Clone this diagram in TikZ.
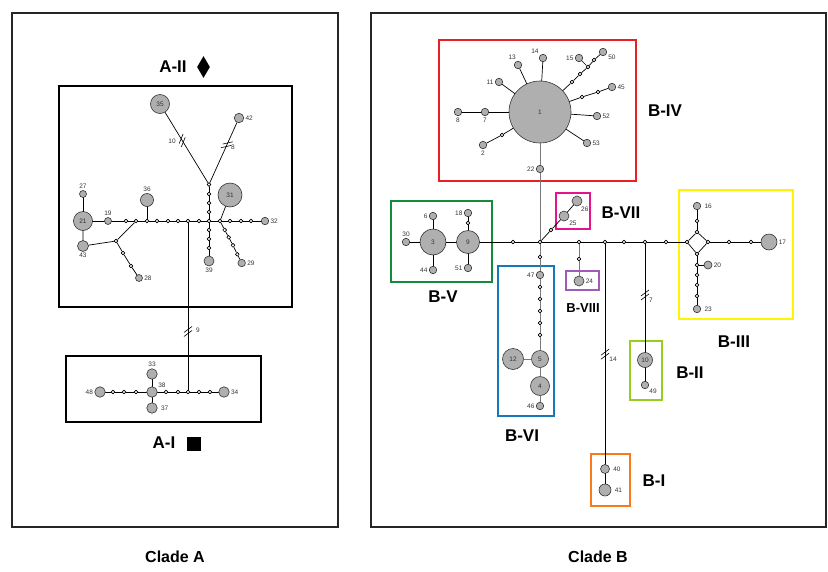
\documentclass[tikz,border=0pt]{standalone}
\usepackage{fontspec}
\setmainfont{Liberation Sans}
\usetikzlibrary{decorations.markings}
\usetikzlibrary{shapes.geometric}

\definecolor{boxred}{RGB}{235,30,35}
\definecolor{boxgreen}{RGB}{20,140,60}
\definecolor{boxblue}{RGB}{20,120,185}
\definecolor{boxmagenta}{RGB}{230,20,140}
\definecolor{boxpurple}{RGB}{160,90,185}
\definecolor{boxyellow}{RGB}{255,245,0}
\definecolor{boxlime}{RGB}{150,205,30}
\definecolor{boxorange}{RGB}{250,120,30}
\definecolor{hapfill}{RGB}{175,175,175}
\definecolor{trunk}{RGB}{120,120,120}

\tikzstyle{every node}=[font=\fontsize{6.5}{7}\selectfont]
\tikzstyle{every path}=[line width=0.7pt,line cap=round,line join=round]
\tikzstyle{mv}=[circle,draw,fill=white,inner sep=0pt,minimum size=3.8pt,line width=0.6pt]
\tikzstyle{lbl}=[text=black!80,inner sep=1.2pt]
\tikzstyle{panel}=[line width=1.8pt,draw=black!85,line join=miter]
\tikzstyle{grp}=[line width=1.8pt,line join=miter]
\tikzstyle{trunkline}=[draw=trunk]
\tikzstyle{title}=[font=\fontsize{17}{18}\selectfont\bfseries]
\tikzstyle{clade}=[font=\fontsize{16}{17}\selectfont\bfseries]
\tikzset{
  hap/.style={circle,draw=black!80,fill=hapfill,inner sep=0pt,line width=0.6pt,
    text=black!80,minimum size=#1},
  hap/.default=7.5pt,
  mut/.style={postaction={decorate,decoration={markings,
    mark=at position #1 with {\draw[line width=0.6pt] (-5,-4)--(1,4) (-1,-4)--(5,4);}}}}
}

\begin{document}
\begin{tikzpicture}[x=1pt,y=-1pt]
    \useasboundingbox (0,0) rectangle (828,571);

    % Clade panels
    \draw[panel] (12,13) rectangle (338,527);
    \draw[panel] (371,13) rectangle (826,527);
    \node[clade] (cladeA) at (175,557) {Clade A};
    \node[clade] (cladeB) at (598,557) {Clade B};

    % Group boxes
    \draw[grp] (59,86) rectangle (292,307);
    \draw[grp] (66,356) rectangle (261,422);
    \draw[grp,boxred] (439,40) rectangle (636,181);
    \draw[grp,boxmagenta] (556,193) rectangle (590,229);
    \draw[grp,boxgreen] (391,201) rectangle (492,282);
    \draw[grp,boxblue] (498,266) rectangle (554,416);
    \draw[grp,boxpurple] (566,271) rectangle (599,290);
    \draw[grp,boxyellow] (679,190) rectangle (793,319);
    \draw[grp,boxlime] (630,341) rectangle (662,400);
    \draw[grp,boxorange] (591,454) rectangle (630,506);

    % Group titles
    \node[title] (tAII) at (173,67) {A-II};
    \node[diamond,fill,inner sep=0pt,minimum width=13pt,minimum height=22pt] (symAII) at (203.5,67) {};
    \node[title] (tAI) at (164,443) {A-I};
    \node[fill,inner sep=0pt,minimum size=14pt] (symAI) at (193.5,444) {};
    \node[title] (tBIV) at (665,111) {B-IV};
    \node[title] (tBVII) at (621,213) {B-VII};
    \node[title] (tBV) at (443,297) {B-V};
    \node[title] (tBVI) at (522,436) {B-VI};
    \node[title,font=\fontsize{13}{14}\selectfont\bfseries] (tBVIII) at (583,308) {B-VIII};
    \node[title] (tBIII) at (734,342) {B-III};
    \node[title] (tBII) at (690,373) {B-II};
    \node[title] (tBI) at (654,481) {B-I};

    % ---- A-II network ----
    \foreach \x [count=\i] in {126,136,147,157,168,178,188,199,209,220,230,241,251}
        \node[mv] (a\i) at (\x,221) {};
    \node[hap=19pt] (h21) at (83,221) {21};
    \node[hap=7pt,label={[lbl]above:27}] (h27) at (83,194) {};
    \node[hap=7pt,label={[lbl]above:19}] (h19) at (108,221) {};
    \node[hap,label={[lbl]right:32}] (h32) at (265,221) {};
    \node[hap=13pt,label={[lbl]above:36}] (h36) at (147,200) {};
    \node[hap=24pt] (h31) at (230,195) {31};
    \node[hap=11pt,label={[lbl]below:43}] (h43) at (83,246) {};
    \node[mv] (aj) at (116,241) {};
    \node[mv] (ab1) at (123,253) {};
    \node[mv] (ab2) at (131,266) {};
    \node[hap=7pt,label={[lbl]right:28}] (h28) at (139,278) {};
    \foreach \y [count=\i] in {212,203,194,184.5}
        \node[mv] (au\i) at (209,\y) {};
    \node[hap=19pt] (h35) at (160,104) {35};
    \node[hap=9.5pt,label={[lbl]right:42}] (h42) at (239,118) {};
    \foreach \y [count=\i] in {230,239,248}
        \node[mv] (ad\i) at (209,\y) {};
    \node[hap=10pt,label={[lbl]below:39}] (h39) at (209,261) {};
    \foreach \x/\y [count=\i] in {224.7/230,228.7/237.3,233/245.3,237.3/254.3}
        \node[mv] (ar\i) at (\x,\y) {};
    \node[hap=7.5pt,label={[lbl]right:29}] (h29) at (241.7,263) {};

    \draw (h21) -- (h19) -- (a1) -- (a2) -- (a3) -- (a4) -- (a5) -- (a6) -- (a7)
        -- (a8) -- (a9) -- (a10) -- (a11) -- (a12) -- (a13) -- (h32);
    \draw (h21) -- (h27);
    \draw (h21) -- (h43) -- (aj) -- (a2);
    \draw (aj) -- (ab1) -- (ab2) -- (h28);
    \draw (a3) -- (h36);
    \draw (a9) -- (au1) -- (au2) -- (au3) -- (au4);
    \draw[mut=0.4] (h35) -- (au4);
    \draw[mut=0.37] (h42) -- (au4);
    \draw (a9) -- (ad1) -- (ad2) -- (ad3) -- (h39);
    \draw (a10) -- (h31);
    \draw (a10) -- (ar1) -- (ar2) -- (ar3) -- (ar4) -- (h29);
    \node[lbl] (n10) at (172,141) {10};
    \node[lbl] (n8) at (233,147) {8};

    % ---- A-I network ----
    \node[hap=10.5pt,label={[lbl]left:48}] (h48) at (100,392) {};
    \foreach \x [count=\i] in {113,124,136}
        \node[mv] (b\i) at (\x,392) {};
    \node[hap=10.5pt,label={[lbl]30:38}] (h38) at (152,392) {};
    \foreach \x [count=\i from 4] in {166,178,188,199,210}
        \node[mv] (b\i) at (\x,392) {};
    \node[hap=10.5pt,label={[lbl]right:34}] (h34) at (224,392) {};
    \node[hap=10.5pt,label={[lbl]above:33}] (h33) at (152,374) {};
    \node[hap=10.5pt,label={[lbl,xshift=2pt]right:37}] (h37) at (152,408) {};
    \draw (h48) -- (b1) -- (b2) -- (b3) -- (h38) -- (b4) -- (b5) -- (b6) -- (b7) -- (b8) -- (h34);
    \draw (h33) -- (h38) -- (h37);
    \draw[mut=0.65] (a7) -- (b6);
    \node[lbl] (n9) at (198,330) {9};

    % ---- Clade B: main line ----
    \node[hap,label={[lbl]above:30}] (h30) at (406,242) {};
    \node[hap=26pt] (h3) at (433,242) {3};
    \node[hap=23pt] (h9) at (468,242) {9};
    \foreach \x [count=\i] in {513,540,579,605,624,645,666}
        \node[mv] (r\i) at (\x,242) {};
    \node[mv] (dl) at (687,242) {};
    \node[mv] (dt) at (697,232) {};
    \node[mv] (dr) at (708,242) {};
    \node[mv] (db) at (697,254) {};
    \draw (h30) -- (h3) -- (h9) -- (r1) -- (r2) -- (r3) -- (r4) -- (r5) -- (r6) -- (r7) -- (dl);
    \draw (dl) -- (dt) -- (dr) -- (db) -- (dl);

    % B-V
    \node[hap,label={[lbl]left:6}] (h6) at (433,216) {};
    \node[hap,label={[lbl]left:44}] (h44) at (433,270) {};
    \node[mv] (t1) at (468,223) {};
    \node[hap,label={[lbl]left:18}] (h18) at (468,213) {};
    \node[hap,label={[lbl]left:51}] (h51) at (468,268) {};
    \draw (h6) -- (h3) -- (h44);
    \draw (h9) -- (t1) -- (h18);
    \draw (h9) -- (h51);

    % B-IV
    \node[hap=62pt] (h1) at (540,112) {1};
    \node[hap,label={[lbl]below:8}] (h8) at (458,112) {};
    \node[hap,label={[lbl]below:7}] (h7) at (485,112) {};
    \node[hap,label={[lbl]left:11}] (h11) at (499,82) {};
    \node[hap,label={[lbl]100:13}] (h13) at (518,65) {};
    \node[hap,label={[lbl]135:14}] (h14) at (543,58) {};
    \node[hap,label={[lbl]left:15}] (h15) at (579,58) {};
    \node[hap,label={[lbl]-20:50}] (h50) at (603,52) {};
    \node[hap,label={[lbl]right:45}] (h45) at (612,87) {};
    \node[hap,label={[lbl]right:52}] (h52) at (597,116) {};
    \node[hap,label={[lbl]right:53}] (h53) at (587,143) {};
    \node[hap,label={[lbl]below:2}] (h2) at (483,145) {};
    \node[hap,label={[lbl]left:22}] (h22) at (540,169) {};
    \node[mv] (q1) at (572,82) {};
    \node[mv] (q2) at (580,74) {};
    \node[mv] (qj) at (588,67) {};
    \node[mv] (q3) at (594,60) {};
    \node[mv] (q4) at (582,97) {};
    \node[mv] (q5) at (598,92) {};
    \node[mv] (q6) at (502,135) {};
    \draw (h1) -- (h7) -- (h8);
    \draw (h1) -- (h11);
    \draw (h1) -- (h13);
    \draw (h1) -- (h14);
    \draw (h1) -- (q1) -- (q2) -- (qj) -- (h15);
    \draw (qj) -- (q3) -- (h50);
    \draw (h1) -- (q4) -- (q5) -- (h45);
    \draw (h1) -- (h52);
    \draw (h1) -- (h53);
    \draw (h1) -- (q6) -- (h2);

    % B-VI
    \node[mv] (s1) at (540,257) {};
    \node[hap,label={[lbl]left:47}] (h47) at (540,275) {};
    \foreach \y [count=\i from 2] in {287,299,311,323,335}
        \node[mv] (s\i) at (540,\y) {};
    \node[hap=17pt] (h5) at (540,359) {5};
    \node[hap=21pt] (h12) at (513,359) {12};
    \node[hap=19pt] (h4) at (540,386) {4};
    \node[hap,label={[lbl]left:46}] (h46) at (540,406) {};
    \draw[trunkline] (h1) -- (h22) -- (r2) -- (s1) -- (h47) -- (s2) -- (s3) -- (s4) -- (s5) -- (s6)
        -- (h5) -- (h4) -- (h46);
    \draw[trunkline] (h5) -- (h12);

    % B-VII and B-VIII
    \node[mv] (u1) at (551,230) {};
    \node[hap=10pt,label={[lbl]-45:25}] (h25) at (564,216) {};
    \node[hap=10pt,label={[lbl]-60:26}] (h26) at (577,201) {};
    \draw (r2) -- (u1) -- (h25) -- (h26);
    \node[mv] (u2) at (579,259) {};
    \node[hap=10pt,label={[lbl]right:24}] (h24) at (579,281) {};
    \draw[trunkline] (r3) -- (u2) -- (h24);

    % B-I
    \node[hap=9pt,label={[lbl,xshift=2pt]right:40}] (h40) at (605,469) {};
    \node[hap=12pt,label={[lbl,xshift=2pt]right:41}] (h41) at (605,490) {};
    \draw[mut=0.5] (r4) -- (h40);
    \draw (h40) -- (h41);
    \node[lbl] (n14) at (613,359) {14};

    % B-II
    \node[hap=15pt] (h10) at (645,360) {10};
    \node[hap,label={[lbl]-45:49}] (h49) at (645,385) {};
    \draw[mut=0.47] (r6) -- (h10);
    \draw (h10) -- (h49);
    \node[lbl] (n7) at (651,300) {7};

    % B-III
    \node[mv] (v1) at (697,221) {};
    \node[hap,label={[lbl,xshift=2pt]right:16}] (h16) at (697,206) {};
    \node[mv] (v2) at (729,242) {};
    \node[mv] (v3) at (751,242) {};
    \node[hap=16pt,label={[lbl]right:17}] (h17) at (769,242) {};
    \foreach \y [count=\i from 4] in {265,275,285,296}
        \node[mv] (v\i) at (697,\y) {};
    \node[hap=8pt,label={[lbl]right:20}] (h20) at (708,265) {};
    \node[hap,label={[lbl,xshift=2pt]right:23}] (h23) at (697,309) {};
    \draw (dt) -- (v1) -- (h16);
    \draw (dr) -- (v2) -- (v3) -- (h17);
    \draw (db) -- (v4) -- (v5) -- (v6) -- (v7) -- (h23);
    \draw (v4) -- (h20);

\end{tikzpicture}
\end{document}
